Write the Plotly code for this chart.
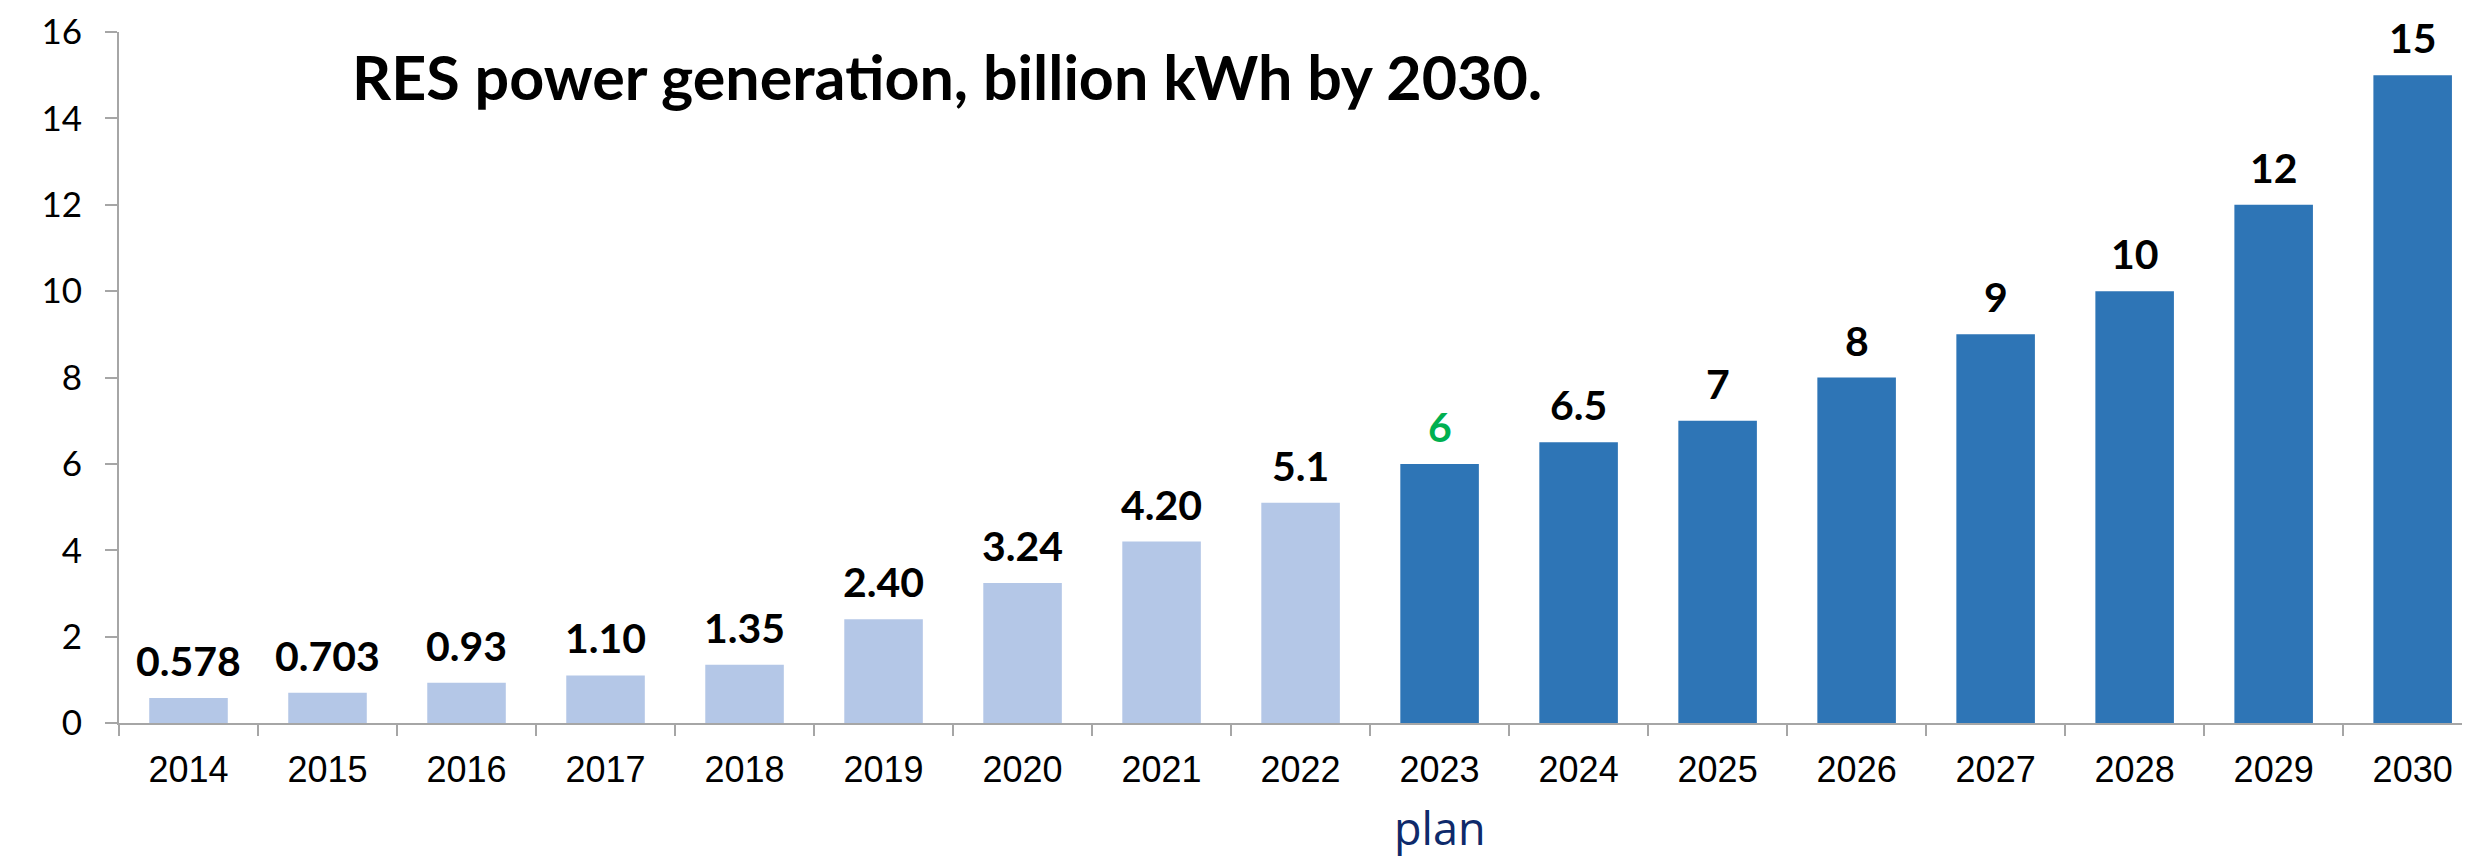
import plotly.graph_objects as go

# 数据
years = ["2014", "2015", "2016", "2017", "2018", "2019", "2020", "2021", "2022",
         "2023", "2024", "2025", "2026", "2027", "2028", "2029", "2030"]
values = [0.578, 0.703, 0.93, 1.10, 1.35, 2.40, 3.24, 4.20, 5.1,
          6, 6.5, 7, 8, 9, 10, 12, 15]
labels = ["0.578", "0.703", "0.93", "1.10", "1.35", "2.40", "3.24", "4.20", "5.1",
          "6", "6.5", "7", "8", "9", "10", "12", "15"]
is_plan = [False] * 9 + [True] * 8
y_ticks = [0, 2, 4, 6, 8, 10, 12, 14, 16]

FACT_COLOR = "#B4C7E7"
PLAN_COLOR = "#2E75B6"
GEO_FONT = "Lato"
AXIS_GREY = "#A6A6A6"

# 页面 body 默认有 8px 边距，这里整体补偿
OFF = 8
L, T, B = 119 - OFF, 32 - OFF, 856 - (723 - OFF)

bar_colors = [PLAN_COLOR if p else FACT_COLOR for p in is_plan]

fig = go.Figure(go.Bar(
    x=years,
    y=values,
    marker=dict(color=bar_colors, line=dict(width=0)),
    width=0.565,
    hoverinfo="skip",
))

# 柱顶数值标注（2023 为绿色）
for i, (yr, v, lab) in enumerate(zip(years, values, labels)):
    fig.add_annotation(
        x=i, y=v, xref="x", yref="y",
        text=f"<b>{lab}</b>",
        showarrow=False,
        yanchor="bottom",
        yshift=11,
        font=dict(family=GEO_FONT, size=41,
                  color="#00B050" if yr == "2023" else "black"),
    )

# 标题
fig.add_annotation(
    x=0, y=1, xref="paper", yref="paper",
    text="<b>RES power generation, billion kWh by 2030.</b>",
    showarrow=False, xanchor="left", yanchor="middle",
    xshift=350 - 119, yshift=-(76 - 32),
    font=dict(family=GEO_FONT, size=61, color="black"),
)
# plan 标注（2023 下方）
fig.add_annotation(
    x=years.index("2023"), y=0, xref="x", yref="paper",
    text="plan", showarrow=False, yanchor="middle",
    yshift=-(827 - 723),
    font=dict(family="Open Sans", size=45, color="#0E2A6B"),
)
# 底部被截断的文字
fig.add_annotation(
    x=0, y=0, xref="paper", yref="paper",
    text="2030", showarrow=False, xanchor="left", yanchor="top",
    xshift=-112, yshift=-(848 - 723),
    font=dict(family="Liberation Sans, Arial", size=36, color="black"),
)

fig.update_layout(
    template="none",
    width=2470,
    height=856,
    plot_bgcolor="white",
    paper_bgcolor="white",
    showlegend=False,
    margin=dict(l=L, r=0, t=T, b=B, autoexpand=False),
    xaxis=dict(
        type="category",
        range=[-0.5, 16.47],
        automargin=False,
        showline=True, linecolor=AXIS_GREY, linewidth=2,
        ticks="outside", tickson="boundaries", ticklen=11,
        tickcolor=AXIS_GREY, tickwidth=2,
        tickfont=dict(family="Liberation Sans, Arial", size=36, color="black"),
        ticklabelstandoff=14,
        showgrid=False,
    ),
    yaxis=dict(
        range=[0, 16],
        automargin=False,
        tickvals=y_ticks,
        showline=True, linecolor=AXIS_GREY, linewidth=2,
        ticks="outside", ticklen=12, tickcolor=AXIS_GREY, tickwidth=2,
        tickfont=dict(family=GEO_FONT, size=35, color="black"),
        ticklabelstandoff=16,
        showgrid=False, zeroline=False,
    ),
)

fig.write_html("out.html")
